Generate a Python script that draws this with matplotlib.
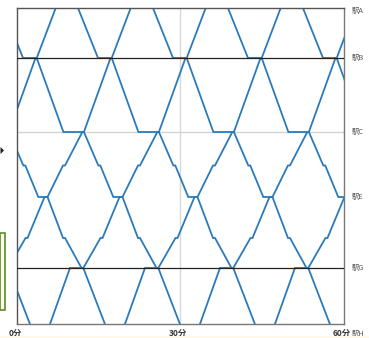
import matplotlib
matplotlib.use("Agg")
import matplotlib.pyplot as plt
from matplotlib.patches import Rectangle, Polygon
import matplotlib.transforms as mtransforms

plt.rcParams['font.family'] = ['Noto Sans CJK JP', 'DejaVu Sans']

# ---- data ----
stations = ['駅A', '駅B', '駅C', '駅D', '駅E', '駅F', '駅G', '駅H']
station_km = [0.0, 5.0, 12.4, 15.75, 18.9, 23.0, 26.0, 31.6]
labelled_stations = ['駅A', '駅B', '駅C', '駅E', '駅G', '駅H']
major_stations = ['駅B', '駅G']      # black lines
minor_stations = ['駅C']             # grey line

down_stops = ['駅A', '駅B', '駅B', '駅C', '駅C', '駅D', '駅D',
              '駅E', '駅E', '駅F', '駅F', '駅G', '駅G', '駅H']
up_stops = ['駅H', '駅G', '駅G', '駅F', '駅F', '駅E', '駅E',
            '駅D', '駅D', '駅C', '駅C', '駅B', '駅B', '駅A']

# minutes at each stop (arrival / departure)
down_1 = [-30.17, -26.49, -23.97, -19.07, -15.30, -12.65, -12.29, -9.90, -8.21, -5.36, -4.99, -1.96, -1.63, 2.34]
down_2 = [-16.39, -12.71, -10.19, -5.29, -1.52, 1.13, 1.49, 3.88, 5.57, 8.42, 8.79, 11.82, 12.15, 16.12]
down_3 = [-2.61, 1.07, 3.59, 8.49, 12.26, 14.91, 15.27, 17.66, 19.35, 22.20, 22.57, 25.60, 25.93, 29.90]
down_4 = [11.17, 14.85, 17.37, 22.27, 26.04, 28.69, 29.05, 31.44, 33.13, 35.98, 36.35, 39.38, 39.71, 43.68]
down_5 = [24.95, 28.63, 31.15, 36.05, 39.82, 42.47, 42.83, 45.22, 46.91, 49.76, 50.13, 53.16, 53.49, 57.46]
down_6 = [38.73, 42.41, 44.93, 49.83, 53.60, 56.25, 56.61, 59.00, 60.69, 63.54, 63.91, 66.94, 67.27, 71.24]
down_7 = [52.51, 56.19, 58.71, 63.61, 67.38, 70.03, 70.39, 72.78, 74.47, 77.32, 77.69, 80.72, 81.05, 85.02]

up_1 = [-21.53, -17.86, -15.41, -12.25, -11.88, -8.76, -8.21, -5.36, -4.99, -1.81, -1.52, 3.37, 3.59, 7.08]
up_2 = [-7.75, -4.08, -1.63, 1.53, 1.90, 5.02, 5.57, 8.42, 8.79, 11.97, 12.26, 17.15, 17.37, 20.86]
up_3 = [6.03, 9.70, 12.15, 15.31, 15.68, 18.80, 19.35, 22.20, 22.57, 25.75, 26.04, 30.93, 31.15, 34.64]
up_4 = [19.81, 23.48, 25.93, 29.09, 29.46, 32.58, 33.13, 35.98, 36.35, 39.53, 39.82, 44.71, 44.93, 48.42]
up_5 = [33.59, 37.26, 39.71, 42.87, 43.24, 46.36, 46.91, 49.76, 50.13, 53.31, 53.60, 58.49, 58.71, 62.20]
up_6 = [47.37, 51.04, 53.49, 56.65, 57.02, 60.14, 60.69, 63.54, 63.91, 67.09, 67.38, 72.27, 72.49, 75.98]

down_trains = [down_1, down_2, down_3, down_4, down_5, down_6, down_7]
up_trains = [up_1, up_2, up_3, up_4, up_5, up_6]

x_ticks = [0, 30, 60]
x_tick_labels = ['0分', '30分', '60分']

# ---- drawing ----
W, H = 369, 338
fig = plt.figure(figsize=(W / 100, H / 100), dpi=100)

# faint cream strip along the bottom of the screenshot
fig.patches.append(Rectangle((0, 0), 1, 2.5 / H, transform=fig.transFigure,
                             facecolor='#fdf8e8', edgecolor='none'))

ax = fig.add_axes([17.2 / W, 1 - 324 / H, (343.7 - 17.2) / W, (324 - 8) / H])

km = dict(zip(stations, station_km))
line_color = '#2b7bba'

ax.axvline(30, color='#d9d9d9', lw=1.0, zorder=1)
for s in minor_stations:
    ax.axhline(km[s], color='#d4d4d4', lw=1.0, zorder=1)
for s in major_stations:
    ax.axhline(km[s], color='#222222', lw=0.9, zorder=3)

for t in down_trains:
    ax.plot(t, [km[s] for s in down_stops], color=line_color, lw=1.3,
            solid_joinstyle='miter', zorder=2)
for t in up_trains:
    ax.plot(t, [km[s] for s in up_stops], color=line_color, lw=1.3,
            solid_joinstyle='miter', zorder=2)

ax.set_xlim(0, 60)
ax.set_ylim(station_km[-1], station_km[0])
ax.set_xticks([])
ax.set_yticks([])
for side in ['left', 'top']:
    ax.spines[side].set_color('#555555')
    ax.spines[side].set_linewidth(1.0)
for side in ['right', 'bottom']:
    ax.spines[side].set_color('#777777')
    ax.spines[side].set_linewidth(1.0)

# station labels on the right
trans = mtransforms.blended_transform_factory(ax.transAxes, ax.transData)
for s in labelled_stations:
    dy = -7 if s == stations[-1] else (-2 if s == stations[0] else 0)
    ax.annotate(s, xy=(1, km[s]), xycoords=trans, xytext=(6, dy),
                textcoords='offset points', ha='left', va='center',
                fontsize=5.3, color='#555555', annotation_clip=False)

# time labels at the bottom
transx = mtransforms.blended_transform_factory(ax.transData, ax.transAxes)
for xv, lab in zip(x_ticks, x_tick_labels):
    ax.annotate(lab, xy=(xv, 0), xycoords=transx, xytext=(-1.7, -7.2),
                textcoords='offset points', ha='center', va='center',
                fontsize=6, fontweight='bold', color='#333333',
                annotation_clip=False)

# decorations at the left edge of the screenshot
fig.patches.append(Rectangle((0 / W, 1 - 310 / H), 5 / W, 77 / H,
                             transform=fig.transFigure, facecolor='#fffbea',
                             edgecolor='#5b8c2a', lw=1.2))
fig.patches.append(Polygon([(0.5 / W, 1 - 147 / H), (4 / W, 1 - 150.5 / H),
                            (0.5 / W, 1 - 154 / H)], closed=True,
                           transform=fig.transFigure, facecolor='#222222',
                           edgecolor='none'))

fig.savefig('out.png', dpi=100)
